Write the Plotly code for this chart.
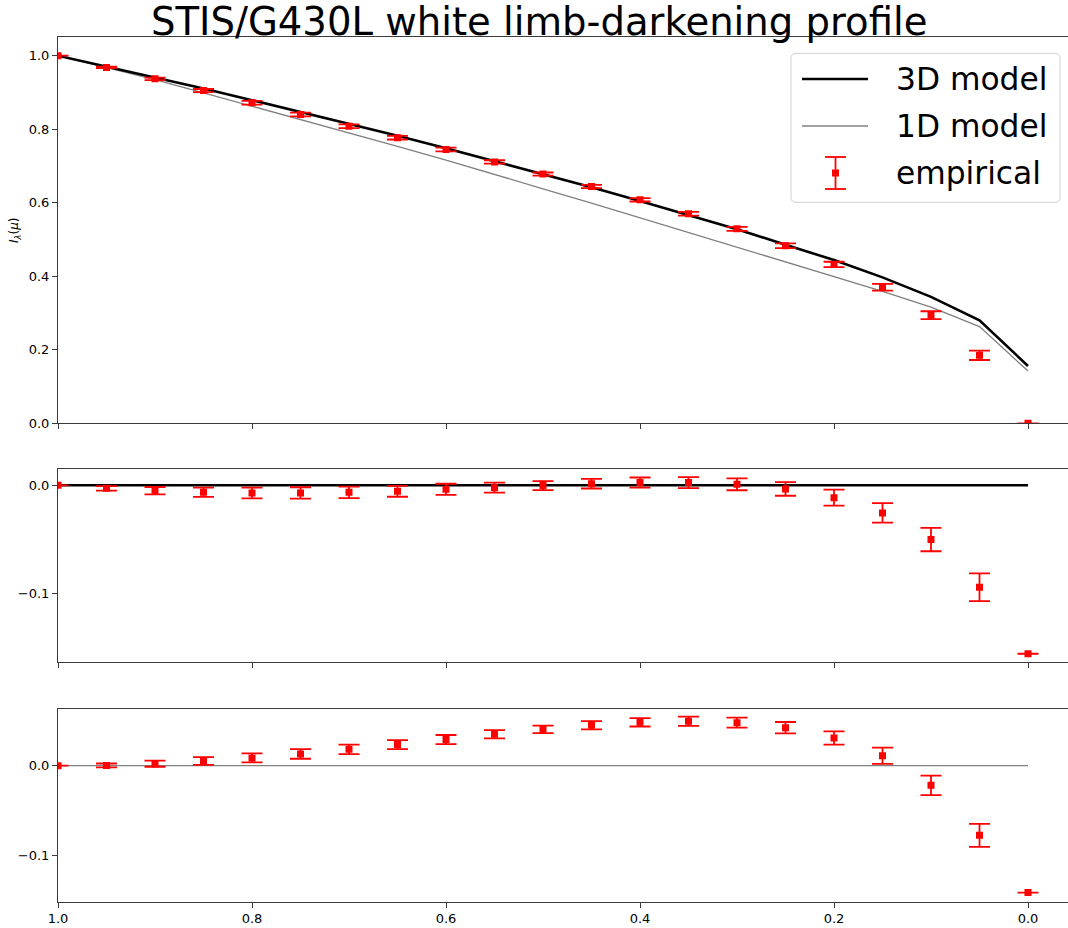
import plotly.graph_objects as go

# ---------------- data ----------------
mu = [1.0, 0.95, 0.90, 0.85, 0.80, 0.75, 0.70, 0.65, 0.60, 0.55, 0.50,
      0.45, 0.40, 0.35, 0.30, 0.25, 0.20, 0.15, 0.10, 0.05, 0.0]
model_3d = [1.000, 0.971, 0.942, 0.911, 0.879, 0.847, 0.814, 0.782, 0.748, 0.713, 0.678,
            0.642, 0.605, 0.567, 0.528, 0.486, 0.444, 0.397, 0.344, 0.280, 0.156]
model_1d = [1.000, 0.968, 0.935, 0.899, 0.863, 0.827, 0.790, 0.753, 0.716, 0.676, 0.638,
            0.599, 0.559, 0.521, 0.481, 0.441, 0.401, 0.359, 0.316, 0.263, 0.142]
empirical = [1.000, 0.968, 0.937, 0.905, 0.872, 0.840, 0.808, 0.777, 0.745, 0.711, 0.678,
             0.644, 0.608, 0.570, 0.529, 0.483, 0.432, 0.370, 0.294, 0.185, 0.0]
emp_err = [0.0, 0.0021, 0.0034, 0.0043, 0.0050, 0.0053, 0.0053, 0.0050, 0.0051, 0.0046, 0.0042,
           0.0045, 0.0047, 0.0051, 0.0055, 0.0063, 0.0074, 0.0090, 0.0108, 0.0128, 0.0]
resid_3d = [0.0, -0.0028, -0.0050, -0.0065, -0.0071, -0.0071, -0.0065, -0.0056, -0.0037, -0.0022, -0.0003,
            0.0015, 0.0025, 0.0025, 0.0009, -0.0034, -0.0115, -0.0256, -0.0503, -0.0944, -0.156]
resid_1d = [0.0, 0.0003, 0.0022, 0.0052, 0.0086, 0.0130, 0.0182, 0.0234, 0.0290, 0.0349, 0.0404,
            0.0449, 0.0482, 0.0493, 0.0478, 0.0422, 0.0308, 0.0111, -0.0218, -0.0774, -0.1410]
zero_ref = [0.0] * len(mu)

x_ticks = [1.0, 0.8, 0.6, 0.4, 0.2, 0.0]
top_yticks = [0.0, 0.2, 0.4, 0.6, 0.8, 1.0]
res_yticks = [-0.1, 0.0]

title_text = "STIS/G430L white limb-darkening profile"
legend_labels = ["3D model", "1D model", "empirical"]

# ---------------- styling / layout ----------------
W, H = 1068, 928
ML, MR, MT, MB = 58, 0, 37, 26
PW, PH = W - ML - MR, H - MT - MB
FONT = "DejaVu Sans"
SPINE = "#3a3a3a"


def px_x(p):
    return (p - ML) / PW


def px_y(p):
    return (H - MB - p) / PH


fig = go.Figure()

err_style = dict(type="data", color="red", thickness=1.8, width=10.5, visible=True)
mk = dict(symbol="square", size=7, color="red")

# top panel
fig.add_trace(go.Scatter(x=mu, y=model_1d, mode="lines", line=dict(color="#808080", width=1.3),
                         xaxis="x", yaxis="y", showlegend=False))
fig.add_trace(go.Scatter(x=mu, y=model_3d, mode="lines", line=dict(color="black", width=2.6),
                         xaxis="x", yaxis="y", showlegend=False))
fig.add_trace(go.Scatter(x=mu, y=empirical, mode="markers", marker=mk,
                         error_y=dict(array=emp_err, **err_style),
                         xaxis="x", yaxis="y", showlegend=False))
# middle panel
fig.add_trace(go.Scatter(x=mu, y=zero_ref, mode="lines", line=dict(color="black", width=2.6),
                         xaxis="x2", yaxis="y2", showlegend=False))
fig.add_trace(go.Scatter(x=mu, y=resid_3d, mode="markers", marker=mk,
                         error_y=dict(array=emp_err, **err_style),
                         xaxis="x2", yaxis="y2", showlegend=False))
# bottom panel
fig.add_trace(go.Scatter(x=mu, y=zero_ref, mode="lines", line=dict(color="#808080", width=1.3),
                         xaxis="x3", yaxis="y3", showlegend=False))
fig.add_trace(go.Scatter(x=mu, y=resid_1d, mode="markers", marker=mk,
                         error_y=dict(array=emp_err, **err_style),
                         xaxis="x3", yaxis="y3", showlegend=False))

xr = [1.0, 1.0 - PW / 970.0]
ax_common = dict(showline=True, linecolor=SPINE, linewidth=1, ticks="outside", ticklen=5,
                 tickwidth=1, tickcolor=SPINE, showgrid=False, zeroline=False,
                 tickfont=dict(family=FONT, size=13, color="black"))

dom_top = [px_y(423.3), px_y(37.3)]
dom_mid = [px_y(662.3), px_y(469.3)]
dom_bot = [px_y(901.7), px_y(708.7)]

fig.update_layout(
    width=W, height=H, margin=dict(l=ML, r=MR, t=MT, b=MB),
    paper_bgcolor="white", plot_bgcolor="white", showlegend=False,
    font=dict(family=FONT, color="black"),
    xaxis=dict(domain=[0, 1], anchor="y", range=xr, tickvals=x_ticks, showticklabels=False,
               mirror=True, **ax_common),
    yaxis=dict(domain=dom_top, anchor="x", range=[0, 1.05], tickvals=top_yticks,
               tickformat=".1f", **ax_common),
    xaxis2=dict(domain=[0, 1], anchor="y2", range=xr, tickvals=x_ticks, showticklabels=False,
                mirror=True, matches="x", **ax_common),
    yaxis2=dict(domain=dom_mid, anchor="x2", range=[-0.1639, 0.0148], tickvals=res_yticks,
                tickformat=".1f", **ax_common),
    xaxis3=dict(domain=[0, 1], anchor="y3", range=xr, tickvals=x_ticks, tickformat=".1f",
                mirror=True, matches="x", **ax_common),
    yaxis3=dict(domain=dom_bot, anchor="x3", range=[-0.1511, 0.0633], tickvals=res_yticks,
                tickformat=".1f", **ax_common),
)

# title and y-label
annotations = [
    dict(text=title_text, x=px_x(538.5), y=px_y(21), xref="paper", yref="paper",
         xanchor="center", yanchor="middle", showarrow=False,
         font=dict(family=FONT, size=38.6, color="black")),
    dict(text="<i>I</i><sub><i>λ</i></sub>(<i>μ</i>)", x=px_x(15), y=px_y(230),
         xref="paper", yref="paper", xanchor="center", yanchor="middle", textangle=-90,
         showarrow=False, font=dict(family=FONT, size=12, color="black")),
]

# legend (drawn manually to mimic the matplotlib legend)
shapes = []
bx0, bx1, by0, by1, rr = 791, 1060, 53.3, 202.3, 5
rx, ry = rr / PW, rr / PH
X0, X1, Y0, Y1 = px_x(bx0), px_x(bx1), px_y(by1), px_y(by0)
path = (f"M{X0+rx},{Y0} L{X1-rx},{Y0} Q{X1},{Y0} {X1},{Y0+ry} L{X1},{Y1-ry} "
        f"Q{X1},{Y1} {X1-rx},{Y1} L{X0+rx},{Y1} Q{X0},{Y1} {X0},{Y1-ry} L{X0},{Y0+ry} "
        f"Q{X0},{Y0} {X0+rx},{Y0} Z")
shapes.append(dict(type="path", path=path, xref="paper", yref="paper",
                   line=dict(color="#d0d0d0", width=1), fillcolor="rgba(255,255,255,0.8)", layer="above"))
row_y = [79.0, 126.0, 173.0]
shapes.append(dict(type="line", xref="paper", yref="paper", x0=px_x(802), x1=px_x(868),
                   y0=px_y(row_y[0]), y1=px_y(row_y[0]), line=dict(color="black", width=2.6), layer="above"))
shapes.append(dict(type="line", xref="paper", yref="paper", x0=px_x(802), x1=px_x(868),
                   y0=px_y(row_y[1]), y1=px_y(row_y[1]), line=dict(color="#808080", width=1.3), layer="above"))
cx = 835.5
shapes.append(dict(type="line", xref="paper", yref="paper", x0=px_x(cx), x1=px_x(cx),
                   y0=px_y(157), y1=px_y(189), line=dict(color="red", width=1.8), layer="above"))
for yy in (157, 189):
    shapes.append(dict(type="line", xref="paper", yref="paper", x0=px_x(cx - 10.5), x1=px_x(cx + 10.5),
                       y0=px_y(yy), y1=px_y(yy), line=dict(color="red", width=1.8), layer="above"))
shapes.append(dict(type="rect", xref="paper", yref="paper", x0=px_x(cx - 3.5), x1=px_x(cx + 3.5),
                   y0=px_y(row_y[2] - 3.5), y1=px_y(row_y[2] + 3.5), line=dict(width=0),
                   fillcolor="red", layer="above"))
for lab, yy in zip(legend_labels, row_y):
    annotations.append(dict(text=lab, x=px_x(894), y=px_y(yy), xref="paper", yref="paper",
                            xanchor="left", yanchor="middle", showarrow=False,
                            font=dict(family=FONT, size=31.3, color="black")))

fig.update_layout(annotations=annotations, shapes=shapes)
fig.write_html("out.html")
